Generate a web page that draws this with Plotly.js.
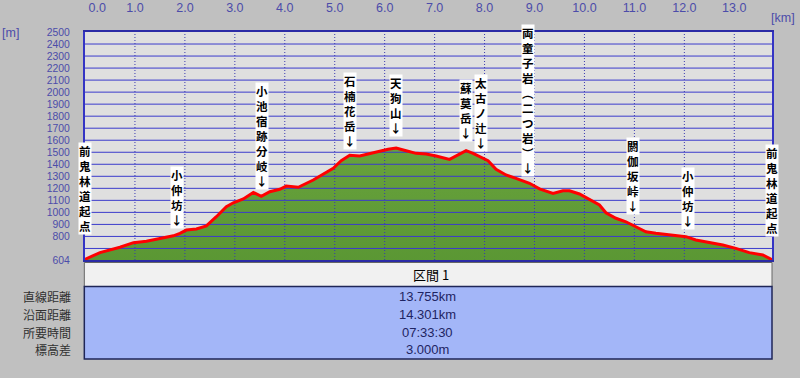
<!DOCTYPE html>
<html>
<head>
<meta charset="utf-8">
<script src="https://cdn.plot.ly/plotly-3.0.1.min.js"></script>
<style>
html,body{margin:0;padding:0;background:#c0c0c0;}
#chart{width:800px;height:378px;}
</style>
</head>
<body>
<div id="chart"></div>
<script>
// ---- data ----
const distanceKm = [0.00,0.30,0.70,0.97,1.23,1.57,1.77,1.90,2.03,2.23,2.43,2.63,2.83,2.97,3.17,3.37,3.53,3.70,3.90,4.03,4.27,4.57,4.77,4.97,5.13,5.30,5.50,5.70,5.90,6.07,6.23,6.43,6.63,6.83,7.03,7.30,7.47,7.63,7.77,7.93,8.07,8.23,8.43,8.63,8.90,9.10,9.37,9.57,9.70,9.90,10.10,10.30,10.43,10.63,10.83,11.03,11.23,11.43,11.63,11.83,12.03,12.23,12.50,12.77,13.03,13.30,13.57,13.755];
const elevationM = [610,665,710,748,760,785,805,826,853,862,887,964,1047,1080,1112,1166,1134,1172,1192,1219,1209,1269,1320,1367,1430,1475,1469,1491,1508,1525,1535,1513,1491,1485,1469,1441,1477,1513,1491,1458,1430,1358,1311,1283,1242,1195,1158,1180,1180,1153,1109,1061,997,951,922,881,839,826,818,804,798,770,748,729,701,665,646,607];

const waypointNames = ['前鬼林道起点','小仲坊','小池宿跡分岐','石楠花岳','天狗山','蘇莫岳','太古ノ辻','両童子岩(二つ岩)','閼伽坂峠','小仲坊','前鬼林道起点'];
const waypointKm = [0, 1.834, 3.534, 5.30, 6.234, 7.634, 7.934, 8.866, 10.966, 12.066, 13.755];

const xTickVals = [0,1,2,3,4,5,6,7,8,9,10,11,12,13];
const xTickText = ['0.0','1.0','2.0','3.0','4.0','5.0','6.0','7.0','8.0','9.0','10.0','11.0','12.0','13.0'];
const yTickVals = [604,700,800,900,1000,1100,1200,1300,1400,1500,1600,1700,1800,1900,2000,2100,2200,2300,2400,2500];
const yTickText = ['604','','800','900','1000','1100','1200','1300','1400','1500','1600','1700','1800','1900','2000','2100','2200','2300','2400','2500'];
const yGridVals = [700,800,900,1000,1100,1200,1300,1400,1500,1600,1700,1800,1900,2000,2100,2200,2300,2400];

const tableHeader = '区間 1';
const tableRowLabels = ['直線距離','沿面距離','所要時間','標高差'];
const tableRowValues = ['13.755km','14.301km','07:33:30','3.000m'];

// ---- layout helpers (positions / styles) ----
const X_MAX = 13.755, Y_MIN = 604, Y_MAX = 2500;
// elevation (axis units) at which the bottom glyph of each label sits
const labelBaseElev = [866, 922, 1244, 1581, 1681, 1643, 1560, 1352, 1036, 912, 853];
const labelHasArrow = [false,true,true,true,true,true,true,true,true,true,false];
const LABEL_SIZE = 11.5;

const gridBlue = '#3b3bcc';
const tickBlue = '#4c4caa';
const numFont = 'Liberation Sans, Arial, sans-serif';
const cjkFont = 'Noto Sans CJK JP, Noto Sans, sans-serif';

// gridline traces (drawn above the fill, below the profile line)
const hx = [], hy = [];
yGridVals.forEach(v => { hx.push(0, X_MAX, null); hy.push(v, v, null); });
const vx = [], vy = [];
xTickVals.filter(v => v > 0).forEach(v => { vx.push(v, v, null); vy.push(Y_MIN, Y_MAX, null); });

const traces = [
  {x: distanceKm, y: elevationM, type: 'scatter', mode: 'none', fill: 'tozeroy',
   fillgradient: {type: 'vertical', colorscale: [[0, '#52902e'], [1, '#68a23c']]},
   hoverinfo: 'skip', showlegend: false},
  {x: hx, y: hy, type: 'scatter', mode: 'lines', line: {color: gridBlue, width: 1},
   hoverinfo: 'skip', showlegend: false},
  {x: vx, y: vy, type: 'scatter', mode: 'lines', line: {color: '#3a3ab0', width: 1, dash: '1px,2px'},
   hoverinfo: 'skip', showlegend: false},
  {x: distanceKm, y: elevationM, type: 'scatter', mode: 'lines',
   line: {color: '#ff0000', width: 3}, hoverinfo: 'skip', showlegend: false}
];

// vertical waypoint labels (characters stacked, white backing like the original)
const annotations = [];
waypointNames.forEach((name, k) => {
  const chars = Array.from(name.replace('(', '︵').replace(')', '︶'));
  if (labelHasArrow[k]) chars.push('↓');
  annotations.push({x: waypointKm[k], y: labelBaseElev[k], xref: 'x', yref: 'y', text: chars.join('<br>'),
    showarrow: false, xanchor: 'center', yanchor: 'bottom', yshift: -7, borderpad: 0,
    bgcolor: '#ffffff',
    font: {family: cjkFont, size: LABEL_SIZE, color: '#000', weight: 'bold'}});
});

// unit labels
annotations.push({xref: 'paper', yref: 'paper', x: -0.109, y: 0.996, text: '[m]', showarrow: false,
  xanchor: 'center', yanchor: 'middle', font: {family: numFont, size: 12.5, color: tickBlue}});
annotations.push({xref: 'paper', yref: 'paper', x: 1.037, y: 1.063, text: '[km]', showarrow: false,
  xanchor: 'right', yanchor: 'middle', font: {family: numFont, size: 12.5, color: tickBlue}});

// table (below the plot, in paper coords)
const PH = 228;
const py = p => (260 - p) / PH;
annotations.push({xref: 'paper', yref: 'paper', x: 0.503, y: py(274.5), text: tableHeader, showarrow: false,
  xanchor: 'center', yanchor: 'middle', font: {family: cjkFont, size: 13, color: '#000'}});
const rowY = [296.5, 314.3, 332.1, 349.9];
tableRowLabels.forEach((t, i) => {
  annotations.push({xref: 'paper', yref: 'paper', x: -0.017, y: py(rowY[i]), text: t, showarrow: false,
    xanchor: 'right', yanchor: 'middle', font: {family: cjkFont, size: 12, color: '#303030'}});
  annotations.push({xref: 'paper', yref: 'paper', x: 0.499, y: py(rowY[i]), text: tableRowValues[i], showarrow: false,
    xanchor: 'center', yanchor: 'middle', font: {family: numFont, size: 13, color: '#1e2462'}});
});

const shapes = [
  {type: 'rect', xref: 'paper', yref: 'paper', x0: -0.001, x1: 1.0, y0: py(286.5), y1: py(262.5),
   fillcolor: '#f1f1f1', line: {color: '#666', width: 1}, layer: 'above'},
  {type: 'rect', xref: 'paper', yref: 'paper', x0: -0.001, x1: 1.0, y0: py(359), y1: py(286.5),
   fillcolor: '#a3b6f8', line: {color: '#1f2658', width: 1.5}, layer: 'above'}
];

const layout = {
  width: 800, height: 378,
  margin: {l: 85, r: 28, t: 32, b: 118, pad: 0},
  paper_bgcolor: '#c0c0c0', plot_bgcolor: '#dfdfdf',
  showlegend: false,
  xaxis: {side: 'top', range: [0, X_MAX], tickvals: xTickVals,
    ticktext: xTickText.map((t, i) => i === 0 ? '\u00a0\u00a0\u00a0\u00a0\u00a0\u00a0\u00a0' + t : t),
    showgrid: false, zeroline: false, ticks: '', ticklabelstandoff: 13,
    showline: true, mirror: true, linecolor: '#2b2ba6', linewidth: 2,
    tickfont: {family: numFont, size: 12.5, color: tickBlue}, fixedrange: true},
  yaxis: {range: [Y_MIN, Y_MAX], tickvals: yTickVals, ticktext: yTickText,
    showgrid: false, zeroline: false, ticks: '', ticklabelstandoff: 11,
    showline: true, mirror: true, linecolor: '#3434c4', linewidth: 2,
    tickfont: {family: numFont, size: 10.4, color: tickBlue}, fixedrange: true},
  annotations: annotations,
  shapes: shapes
};

Plotly.newPlot('chart', traces, layout, {staticPlot: true, displayModeBar: false});
</script>
</body>
</html>
